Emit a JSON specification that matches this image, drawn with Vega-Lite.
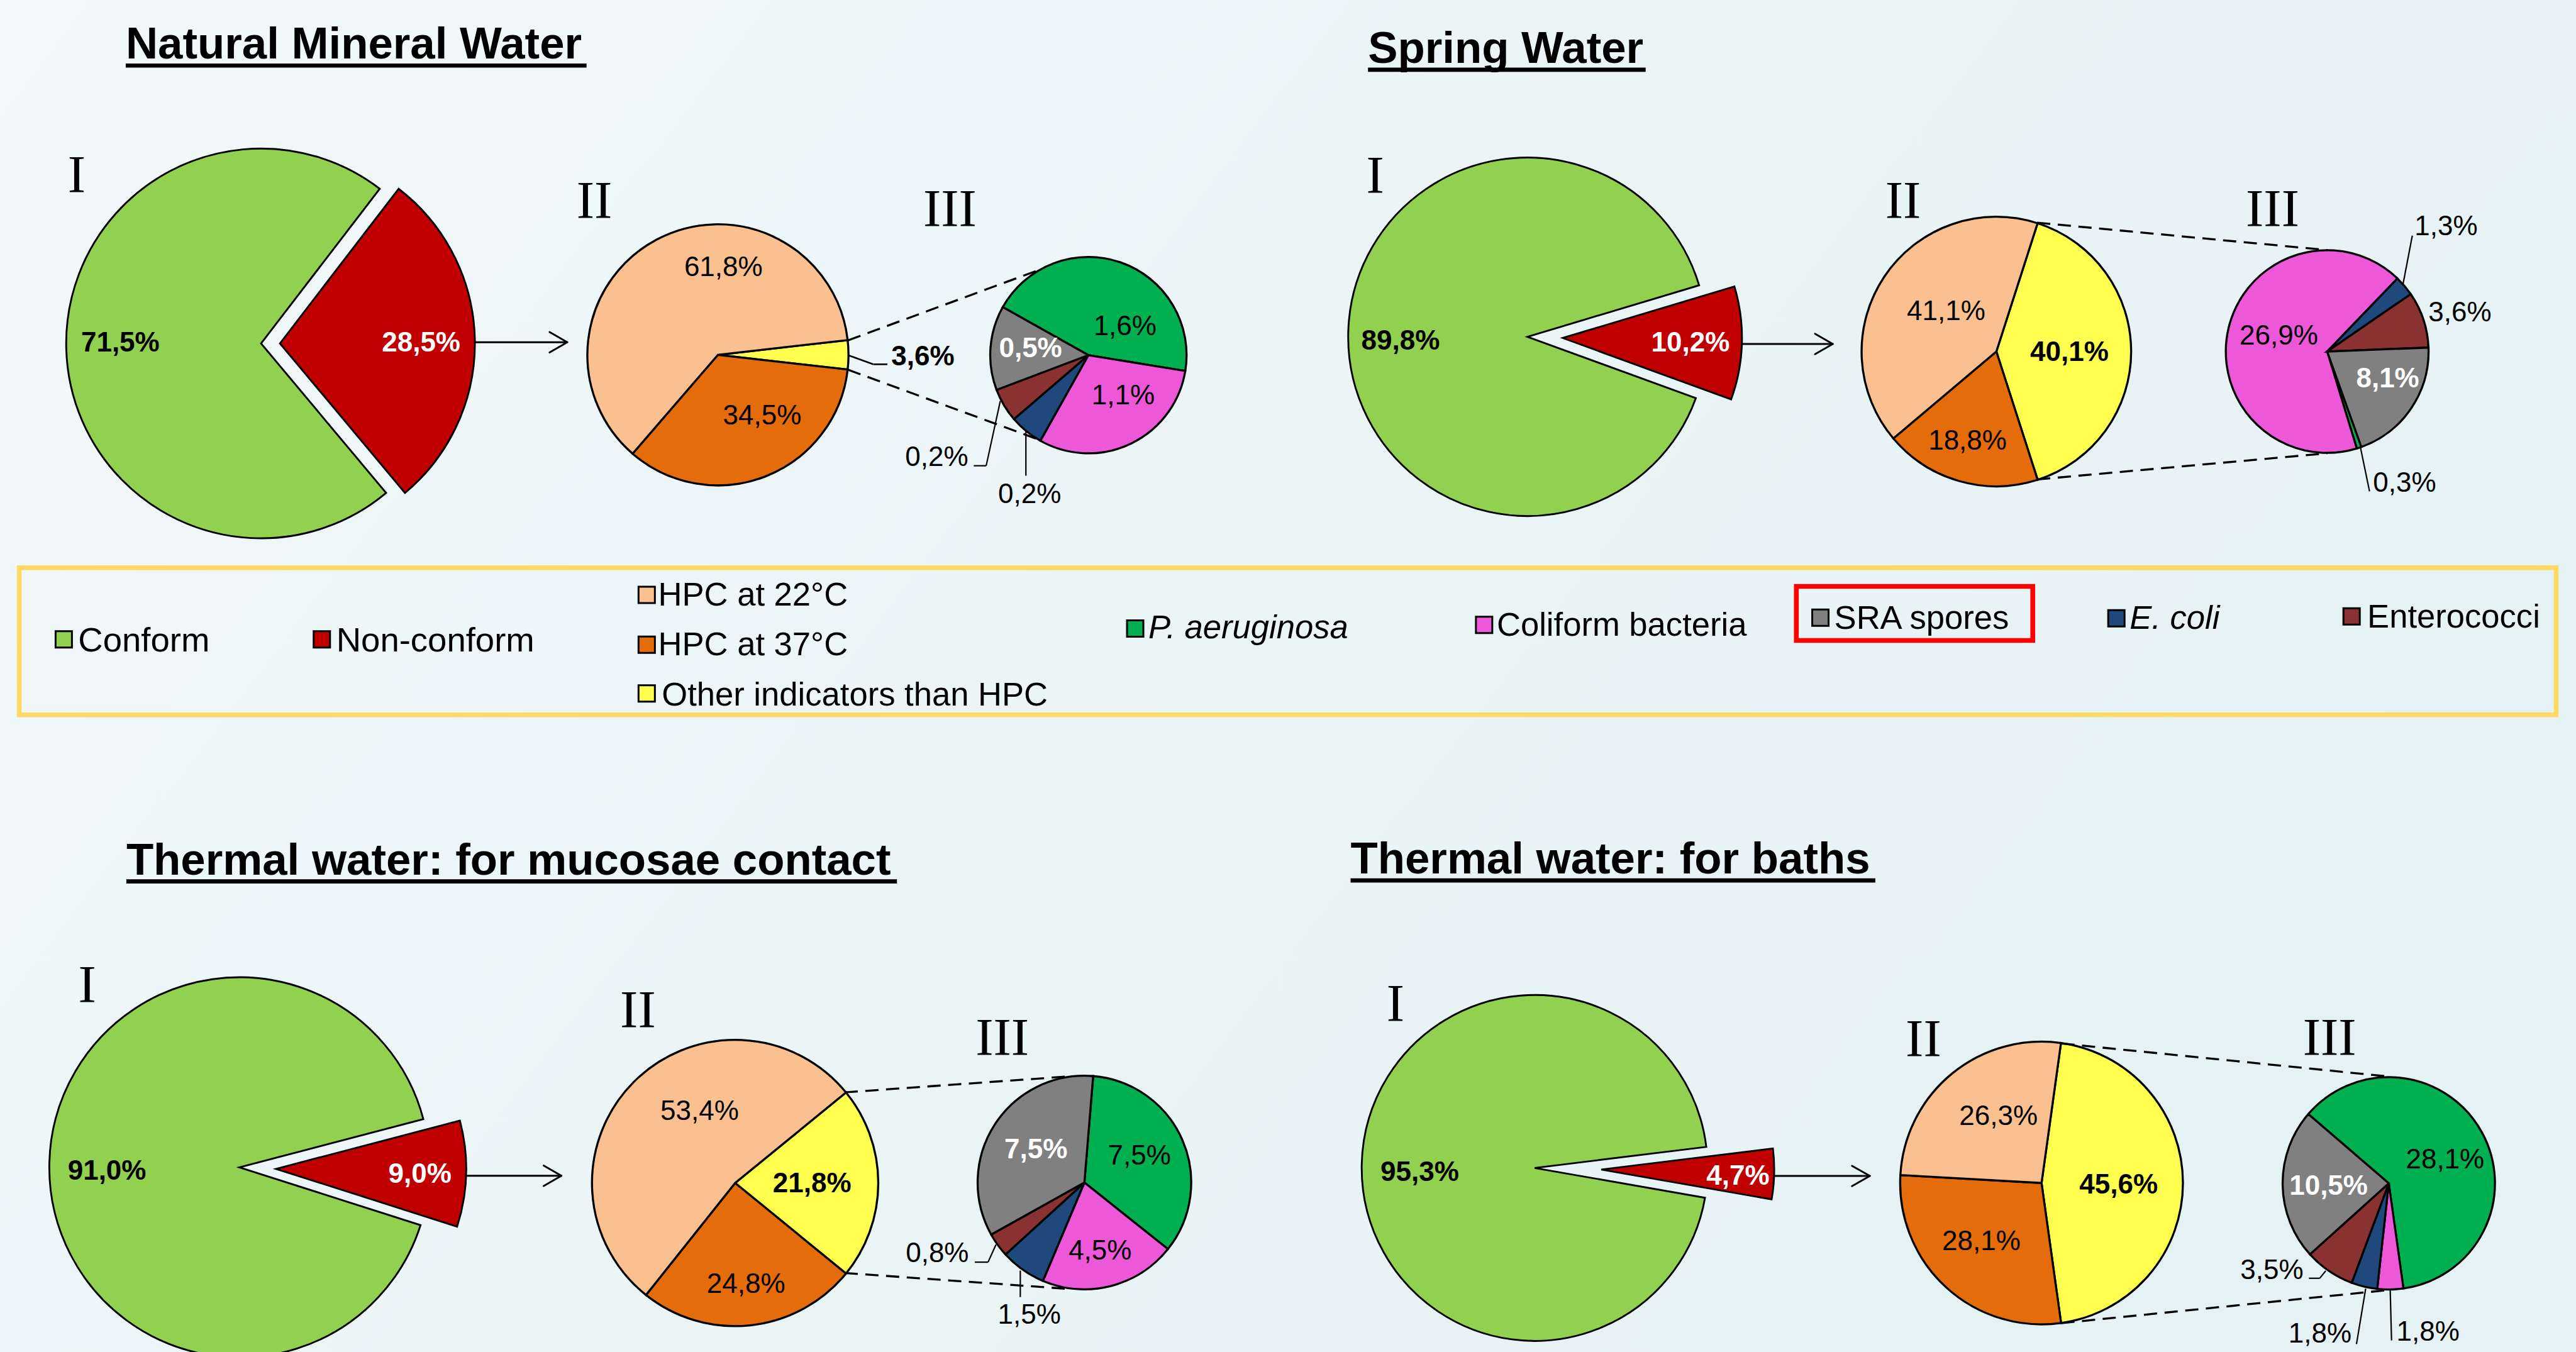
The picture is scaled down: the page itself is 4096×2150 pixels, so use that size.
{
"$schema": "https://vega.github.io/schema/vega-lite/v6.json",
"width": 4096, "height": 2150, "padding": 0, "autosize": {"type": "none"},
"background": "#ECF5F7",
"config": {"view": {"stroke": null}, "axis": {"disable": true, "domain": false, "ticks": false, "labels": false, "grid": false}, "legend": {"disable": true}, "text": {"font": "Liberation Sans"}},
"datasets": {"pies": [
{"pie":"NMW-I","cat":"Non-conform","k":1,"v":28.5,"label":"28,5%"},
{"pie":"NMW-I","cat":"Conform","k":2,"v":71.5,"label":"71,5%"},
{"pie":"NMW-II","cat":"Other indicators than HPC","k":1,"v":3.6,"label":"3,6%"},
{"pie":"NMW-II","cat":"HPC at 37°C","k":2,"v":34.5,"label":"34,5%"},
{"pie":"NMW-II","cat":"HPC at 22°C","k":3,"v":61.8,"label":"61,8%"},
{"pie":"NMW-III","cat":"P. aeruginosa","k":1,"v":1.6,"label":"1,6%"},
{"pie":"NMW-III","cat":"Coliform bacteria","k":2,"v":1.1,"label":"1,1%"},
{"pie":"NMW-III","cat":"E. coli","k":3,"v":0.2,"label":"0,2%"},
{"pie":"NMW-III","cat":"Enterococci","k":4,"v":0.2,"label":"0,2%"},
{"pie":"NMW-III","cat":"SRA spores","k":5,"v":0.5,"label":"0,5%"},
{"pie":"SW-I","cat":"Non-conform","k":1,"v":10.2,"label":"10,2%"},
{"pie":"SW-I","cat":"Conform","k":2,"v":89.8,"label":"89,8%"},
{"pie":"SW-II","cat":"Other indicators than HPC","k":1,"v":40.1,"label":"40,1%"},
{"pie":"SW-II","cat":"HPC at 37°C","k":2,"v":18.8,"label":"18,8%"},
{"pie":"SW-II","cat":"HPC at 22°C","k":3,"v":41.1,"label":"41,1%"},
{"pie":"SW-III","cat":"P. aeruginosa","k":1,"v":0.3,"label":"0,3%"},
{"pie":"SW-III","cat":"Coliform bacteria","k":2,"v":26.9,"label":"26,9%"},
{"pie":"SW-III","cat":"E. coli","k":3,"v":1.3,"label":"1,3%"},
{"pie":"SW-III","cat":"Enterococci","k":4,"v":3.6,"label":"3,6%"},
{"pie":"SW-III","cat":"SRA spores","k":5,"v":8.1,"label":"8,1%"},
{"pie":"BL-I","cat":"Non-conform","k":1,"v":9.0,"label":"9,0%"},
{"pie":"BL-I","cat":"Conform","k":2,"v":91.0,"label":"91,0%"},
{"pie":"BL-II","cat":"Other indicators than HPC","k":1,"v":21.8,"label":"21,8%"},
{"pie":"BL-II","cat":"HPC at 37°C","k":2,"v":24.8,"label":"24,8%"},
{"pie":"BL-II","cat":"HPC at 22°C","k":3,"v":53.4,"label":"53,4%"},
{"pie":"BL-III","cat":"P. aeruginosa","k":1,"v":7.5,"label":"7,5%"},
{"pie":"BL-III","cat":"Coliform bacteria","k":2,"v":4.5,"label":"4,5%"},
{"pie":"BL-III","cat":"E. coli","k":3,"v":1.5,"label":"1,5%"},
{"pie":"BL-III","cat":"Enterococci","k":4,"v":0.8,"label":"0,8%"},
{"pie":"BL-III","cat":"SRA spores","k":5,"v":7.5,"label":"7,5%"},
{"pie":"BR-I","cat":"Non-conform","k":1,"v":4.7,"label":"4,7%"},
{"pie":"BR-I","cat":"Conform","k":2,"v":95.3,"label":"95,3%"},
{"pie":"BR-II","cat":"Other indicators than HPC","k":1,"v":45.6,"label":"45,6%"},
{"pie":"BR-II","cat":"HPC at 37°C","k":2,"v":28.1,"label":"28,1%"},
{"pie":"BR-II","cat":"HPC at 22°C","k":3,"v":26.3,"label":"26,3%"},
{"pie":"BR-III","cat":"P. aeruginosa","k":1,"v":28.1,"label":"28,1%"},
{"pie":"BR-III","cat":"Coliform bacteria","k":2,"v":1.8,"label":"1,8%"},
{"pie":"BR-III","cat":"E. coli","k":3,"v":1.8,"label":"1,8%"},
{"pie":"BR-III","cat":"Enterococci","k":4,"v":3.5,"label":"3,5%"},
{"pie":"BR-III","cat":"SRA spores","k":5,"v":10.5,"label":"10,5%"}
]},
"data": {"values": [{"one": 1}]},
"resolve": {"scale": {"theta": "independent"}},
"layer": [
{"mark": {"type": "rect", "color": {"gradient": "linear", "x1": 0, "y1": 0, "x2": 1, "y2": 0.4, "stops": [{"offset": 0, "color": "#F1F8FA"}, {"offset": 1, "color": "#E5F2F3"}]}},
 "encoding": {"x": {"datum": 0, "scale": {"domain": [0, 4282], "nice": false, "zero": false}, "axis": null}, "x2": {"datum": 4282}, "y": {"datum": 0, "scale": {"domain": [0, 2248], "nice": false, "zero": false, "reverse": true}, "axis": null}, "y2": {"datum": 2248}}},

{"data":{"name":"pies"},"transform":[{"filter":"datum.pie==='NMW-I'"}],"mark":{"type":"arc","outerRadius":309.9,"stroke":"black","strokeWidth":2.9},"encoding":{"x":{"datum":434},"y":{"datum":571},"theta":{"field":"v","type":"quantitative","stack":true,"scale":{"range":[0.6545,6.9377],"nice":false}},"order":{"field":"k","type":"quantitative"},"color":{"field":"cat","type":"nominal","legend":null,"scale":{"domain":["Conform","Non-conform","HPC at 22°C","HPC at 37°C","Other indicators than HPC","P. aeruginosa","Coliform bacteria","SRA spores","E. coli","Enterococci"],"range":["#92D050","#C00000","#FAC090","#E46C0A","#FFFF50","#00B050","#EC58D8","#808080","#1F497D","#8A3232"]}},"opacity":{"condition":{"test":"datum.cat==='Non-conform'","value":0},"value":1}}},
{"data":{"name":"pies"},"transform":[{"filter":"datum.pie==='NMW-I'"}],"mark":{"type":"arc","outerRadius":309.9,"stroke":"black","strokeWidth":2.9},"encoding":{"x":{"datum":465.4},"y":{"datum":571},"theta":{"field":"v","type":"quantitative","stack":true,"scale":{"range":[0.6545,6.9377],"nice":false}},"order":{"field":"k","type":"quantitative"},"color":{"field":"cat","type":"nominal","legend":null},"opacity":{"condition":{"test":"datum.cat==='Conform'","value":0},"value":1}}},
{"data":{"name":"pies"},"transform":[{"filter":"datum.pie==='SW-I'"}],"mark":{"type":"arc","outerRadius":285.0,"stroke":"black","strokeWidth":2.9},"encoding":{"x":{"datum":2539},"y":{"datum":560},"theta":{"field":"v","type":"quantitative","stack":true,"scale":{"range":[1.2793,7.5625],"nice":false}},"order":{"field":"k","type":"quantitative"},"color":{"field":"cat","type":"nominal","legend":null},"opacity":{"condition":{"test":"datum.cat==='Non-conform'","value":0},"value":1}}},
{"data":{"name":"pies"},"transform":[{"filter":"datum.pie==='SW-I'"}],"mark":{"type":"arc","outerRadius":285.0,"stroke":"black","strokeWidth":2.9},"encoding":{"x":{"datum":2597.7},"y":{"datum":562},"theta":{"field":"v","type":"quantitative","stack":true,"scale":{"range":[1.2793,7.5625],"nice":false}},"order":{"field":"k","type":"quantitative"},"color":{"field":"cat","type":"nominal","legend":null},"opacity":{"condition":{"test":"datum.cat==='Conform'","value":0},"value":1}}},
{"data":{"name":"pies"},"transform":[{"filter":"datum.pie==='BL-I'"}],"mark":{"type":"arc","outerRadius":302.3,"stroke":"black","strokeWidth":2.9},"encoding":{"x":{"datum":398},"y":{"datum":1941},"theta":{"field":"v","type":"quantitative","stack":true,"scale":{"range":[1.3142,7.5974],"nice":false}},"order":{"field":"k","type":"quantitative"},"color":{"field":"cat","type":"nominal","legend":null},"opacity":{"condition":{"test":"datum.cat==='Non-conform'","value":0},"value":1}}},
{"data":{"name":"pies"},"transform":[{"filter":"datum.pie==='BL-I'"}],"mark":{"type":"arc","outerRadius":302.3,"stroke":"black","strokeWidth":2.9},"encoding":{"x":{"datum":458.8},"y":{"datum":1943.5},"theta":{"field":"v","type":"quantitative","stack":true,"scale":{"range":[1.3142,7.5974],"nice":false}},"order":{"field":"k","type":"quantitative"},"color":{"field":"cat","type":"nominal","legend":null},"opacity":{"condition":{"test":"datum.cat==='Conform'","value":0},"value":1}}},
{"data":{"name":"pies"},"transform":[{"filter":"datum.pie==='BR-I'"}],"mark":{"type":"arc","outerRadius":275.0,"stroke":"black","strokeWidth":2.9},"encoding":{"x":{"datum":2551},"y":{"datum":1942},"theta":{"field":"v","type":"quantitative","stack":true,"scale":{"range":[1.4486,7.7318],"nice":false}},"order":{"field":"k","type":"quantitative"},"color":{"field":"cat","type":"nominal","legend":null},"opacity":{"condition":{"test":"datum.cat==='Non-conform'","value":0},"value":1}}},
{"data":{"name":"pies"},"transform":[{"filter":"datum.pie==='BR-I'"}],"mark":{"type":"arc","outerRadius":275.0,"stroke":"black","strokeWidth":2.9},"encoding":{"x":{"datum":2661.7},"y":{"datum":1944.7},"theta":{"field":"v","type":"quantitative","stack":true,"scale":{"range":[1.4486,7.7318],"nice":false}},"order":{"field":"k","type":"quantitative"},"color":{"field":"cat","type":"nominal","legend":null},"opacity":{"condition":{"test":"datum.cat==='Conform'","value":0},"value":1}}},

{"data":{"name":"pies"},"transform":[{"filter":"datum.pie==='NMW-II'"}],"mark":{"type":"arc","outerRadius":207.6,"stroke":"black","strokeWidth":3.3},"encoding":{"x":{"datum":1193.4},"y":{"datum":590},"theta":{"field":"v","type":"quantitative","stack":true,"scale":{"range":[1.4574,7.7406],"nice":false}},"order":{"field":"k","type":"quantitative"},"color":{"field":"cat","type":"nominal","legend":null}}},
{"data":{"name":"pies"},"transform":[{"filter":"datum.pie==='SW-II'"}],"mark":{"type":"arc","outerRadius":214.3,"stroke":"black","strokeWidth":3.3},"encoding":{"x":{"datum":3318.5},"y":{"datum":584.5},"theta":{"field":"v","type":"quantitative","stack":true,"scale":{"range":[0.3107,6.5939],"nice":false}},"order":{"field":"k","type":"quantitative"},"color":{"field":"cat","type":"nominal","legend":null}}},
{"data":{"name":"pies"},"transform":[{"filter":"datum.pie==='BL-II'"}],"mark":{"type":"arc","outerRadius":227.6,"stroke":"black","strokeWidth":3.3},"encoding":{"x":{"datum":1222},"y":{"datum":1967},"theta":{"field":"v","type":"quantitative","stack":true,"scale":{"range":[0.8858,7.1690],"nice":false}},"order":{"field":"k","type":"quantitative"},"color":{"field":"cat","type":"nominal","legend":null}}},
{"data":{"name":"pies"},"transform":[{"filter":"datum.pie==='BR-II'"}],"mark":{"type":"arc","outerRadius":224.8,"stroke":"black","strokeWidth":3.3},"encoding":{"x":{"datum":3393.6},"y":{"datum":1967},"theta":{"field":"v","type":"quantitative","stack":true,"scale":{"range":[0.1379,6.4211],"nice":false}},"order":{"field":"k","type":"quantitative"},"color":{"field":"cat","type":"nominal","legend":null}}},
{"data":{"name":"pies"},"transform":[{"filter":"datum.pie==='NMW-III'"}],"mark":{"type":"arc","outerRadius":156.1,"stroke":"black","strokeWidth":3.3},"encoding":{"x":{"datum":1809.2},"y":{"datum":590.5},"theta":{"field":"v","type":"quantitative","stack":true,"scale":{"range":[-1.0594,5.2238],"nice":false}},"order":{"field":"k","type":"quantitative"},"color":{"field":"cat","type":"nominal","legend":null}}},
{"data":{"name":"pies"},"transform":[{"filter":"datum.pie==='SW-III'"}],"mark":{"type":"arc","outerRadius":161.2,"stroke":"black","strokeWidth":3.3},"encoding":{"x":{"datum":3868.4},"y":{"datum":584.5},"theta":{"field":"v","type":"quantitative","stack":true,"scale":{"range":[2.7978,9.0810],"nice":false}},"order":{"field":"k","type":"quantitative"},"color":{"field":"cat","type":"nominal","legend":null}}},
{"data":{"name":"pies"},"transform":[{"filter":"datum.pie==='BL-III'"}],"mark":{"type":"arc","outerRadius":169.8,"stroke":"black","strokeWidth":3.3},"encoding":{"x":{"datum":1802.6},"y":{"datum":1966.2},"theta":{"field":"v","type":"quantitative","stack":true,"scale":{"range":[0.0820,6.3652],"nice":false}},"order":{"field":"k","type":"quantitative"},"color":{"field":"cat","type":"nominal","legend":null}}},
{"data":{"name":"pies"},"transform":[{"filter":"datum.pie==='BR-III'"}],"mark":{"type":"arc","outerRadius":168.8,"stroke":"black","strokeWidth":3.3},"encoding":{"x":{"datum":3970.8},"y":{"datum":1967.5},"theta":{"field":"v","type":"quantitative","stack":true,"scale":{"range":[-0.8604,5.4228],"nice":false}},"order":{"field":"k","type":"quantitative"},"color":{"field":"cat","type":"nominal","legend":null}}},

{"data":{"name":"pies"},"transform":[{"filter":"datum.pie==='NMW-I'&&datum.cat==='Conform'"}],"mark":{"type":"text","fontSize":44,"fontWeight":"bold","align":"center","baseline":"alphabetic"},"encoding":{"x":{"datum":200},"y":{"datum":585},"text":{"field":"label"}}},
{"data":{"name":"pies"},"transform":[{"filter":"datum.pie==='NMW-I'&&datum.cat==='Non-conform'"}],"mark":{"type":"text","fontSize":44,"fontWeight":"bold","color":"white","align":"center","baseline":"alphabetic"},"encoding":{"x":{"datum":700},"y":{"datum":585},"text":{"field":"label"}}},
{"data":{"name":"pies"},"transform":[{"filter":"datum.pie==='NMW-II'&&datum.cat==='HPC at 22°C'"}],"mark":{"type":"text","fontSize":44,"align":"center","baseline":"alphabetic"},"encoding":{"x":{"datum":1202.5},"y":{"datum":459.3},"text":{"field":"label"}}},
{"data":{"name":"pies"},"transform":[{"filter":"datum.pie==='NMW-II'&&datum.cat==='HPC at 37°C'"}],"mark":{"type":"text","fontSize":44,"align":"center","baseline":"alphabetic"},"encoding":{"x":{"datum":1267},"y":{"datum":706},"text":{"field":"label"}}},
{"data":{"name":"pies"},"transform":[{"filter":"datum.pie==='NMW-II'&&datum.cat==='Other indicators than HPC'"}],"mark":{"type":"text","fontSize":44,"fontWeight":"bold","align":"center","baseline":"alphabetic"},"encoding":{"x":{"datum":1534},"y":{"datum":607.3},"text":{"field":"label"}}},
{"data":{"name":"pies"},"transform":[{"filter":"datum.pie==='NMW-III'&&datum.cat==='P. aeruginosa'"}],"mark":{"type":"text","fontSize":44,"align":"center","baseline":"alphabetic"},"encoding":{"x":{"datum":1870},"y":{"datum":556.8},"text":{"field":"label"}}},
{"data":{"name":"pies"},"transform":[{"filter":"datum.pie==='NMW-III'&&datum.cat==='Coliform bacteria'"}],"mark":{"type":"text","fontSize":44,"align":"center","baseline":"alphabetic"},"encoding":{"x":{"datum":1867},"y":{"datum":672},"text":{"field":"label"}}},
{"data":{"name":"pies"},"transform":[{"filter":"datum.pie==='NMW-III'&&datum.cat==='SRA spores'"}],"mark":{"type":"text","fontSize":44,"fontWeight":"bold","color":"white","align":"center","baseline":"alphabetic"},"encoding":{"x":{"datum":1713},"y":{"datum":594},"text":{"field":"label"}}},
{"data":{"name":"pies"},"transform":[{"filter":"datum.pie==='NMW-III'&&datum.cat==='Enterococci'"}],"mark":{"type":"text","fontSize":44,"align":"center","baseline":"alphabetic"},"encoding":{"x":{"datum":1557},"y":{"datum":774.4},"text":{"field":"label"}}},
{"data":{"name":"pies"},"transform":[{"filter":"datum.pie==='NMW-III'&&datum.cat==='E. coli'"}],"mark":{"type":"text","fontSize":44,"align":"center","baseline":"alphabetic"},"encoding":{"x":{"datum":1711.5},"y":{"datum":836.6},"text":{"field":"label"}}},

{"data":{"name":"pies"},"transform":[{"filter":"datum.pie==='SW-I'&&datum.cat==='Conform'"}],"mark":{"type":"text","fontSize":44,"fontWeight":"bold","align":"center","baseline":"alphabetic"},"encoding":{"x":{"datum":2328},"y":{"datum":580.9},"text":{"field":"label"}}},
{"data":{"name":"pies"},"transform":[{"filter":"datum.pie==='SW-I'&&datum.cat==='Non-conform'"}],"mark":{"type":"text","fontSize":44,"fontWeight":"bold","color":"white","align":"center","baseline":"alphabetic"},"encoding":{"x":{"datum":2810},"y":{"datum":585},"text":{"field":"label"}}},
{"data":{"name":"pies"},"transform":[{"filter":"datum.pie==='SW-II'&&datum.cat==='HPC at 22°C'"}],"mark":{"type":"text","fontSize":44,"align":"center","baseline":"alphabetic"},"encoding":{"x":{"datum":3235},"y":{"datum":531.9},"text":{"field":"label"}}},
{"data":{"name":"pies"},"transform":[{"filter":"datum.pie==='SW-II'&&datum.cat==='Other indicators than HPC'"}],"mark":{"type":"text","fontSize":44,"fontWeight":"bold","align":"center","baseline":"alphabetic"},"encoding":{"x":{"datum":3439.8},"y":{"datum":600.3},"text":{"field":"label"}}},
{"data":{"name":"pies"},"transform":[{"filter":"datum.pie==='SW-II'&&datum.cat==='HPC at 37°C'"}],"mark":{"type":"text","fontSize":44,"align":"center","baseline":"alphabetic"},"encoding":{"x":{"datum":3270.6},"y":{"datum":747.4},"text":{"field":"label"}}},
{"data":{"name":"pies"},"transform":[{"filter":"datum.pie==='SW-III'&&datum.cat==='Coliform bacteria'"}],"mark":{"type":"text","fontSize":44,"align":"center","baseline":"alphabetic"},"encoding":{"x":{"datum":3788},"y":{"datum":572.5},"text":{"field":"label"}}},
{"data":{"name":"pies"},"transform":[{"filter":"datum.pie==='SW-III'&&datum.cat==='SRA spores'"}],"mark":{"type":"text","fontSize":44,"fontWeight":"bold","color":"white","align":"center","baseline":"alphabetic"},"encoding":{"x":{"datum":3969},"y":{"datum":644.6},"text":{"field":"label"}}},
{"data":{"name":"pies"},"transform":[{"filter":"datum.pie==='SW-III'&&datum.cat==='Enterococci'"}],"mark":{"type":"text","fontSize":44,"align":"center","baseline":"alphabetic"},"encoding":{"x":{"datum":4089},"y":{"datum":534},"text":{"field":"label"}}},
{"data":{"name":"pies"},"transform":[{"filter":"datum.pie==='SW-III'&&datum.cat==='E. coli'"}],"mark":{"type":"text","fontSize":44,"align":"center","baseline":"alphabetic"},"encoding":{"x":{"datum":4066},"y":{"datum":391},"text":{"field":"label"}}},
{"data":{"name":"pies"},"transform":[{"filter":"datum.pie==='SW-III'&&datum.cat==='P. aeruginosa'"}],"mark":{"type":"text","fontSize":44,"align":"center","baseline":"alphabetic"},"encoding":{"x":{"datum":3997},"y":{"datum":818},"text":{"field":"label"}}},

{"data":{"name":"pies"},"transform":[{"filter":"datum.pie==='BL-I'&&datum.cat==='Conform'"}],"mark":{"type":"text","fontSize":44,"fontWeight":"bold","align":"center","baseline":"alphabetic"},"encoding":{"x":{"datum":177.8},"y":{"datum":1961.1},"text":{"field":"label"}}},
{"data":{"name":"pies"},"transform":[{"filter":"datum.pie==='BL-I'&&datum.cat==='Non-conform'"}],"mark":{"type":"text","fontSize":44,"fontWeight":"bold","color":"white","align":"center","baseline":"alphabetic"},"encoding":{"x":{"datum":698},"y":{"datum":1967},"text":{"field":"label"}}},
{"data":{"name":"pies"},"transform":[{"filter":"datum.pie==='BL-II'&&datum.cat==='HPC at 22°C'"}],"mark":{"type":"text","fontSize":44,"align":"center","baseline":"alphabetic"},"encoding":{"x":{"datum":1163},"y":{"datum":1862.3},"text":{"field":"label"}}},
{"data":{"name":"pies"},"transform":[{"filter":"datum.pie==='BL-II'&&datum.cat==='Other indicators than HPC'"}],"mark":{"type":"text","fontSize":44,"fontWeight":"bold","align":"center","baseline":"alphabetic"},"encoding":{"x":{"datum":1349.8},"y":{"datum":1982.5},"text":{"field":"label"}}},
{"data":{"name":"pies"},"transform":[{"filter":"datum.pie==='BL-II'&&datum.cat==='HPC at 37°C'"}],"mark":{"type":"text","fontSize":44,"align":"center","baseline":"alphabetic"},"encoding":{"x":{"datum":1240},"y":{"datum":2149.5},"text":{"field":"label"}}},
{"data":{"name":"pies"},"transform":[{"filter":"datum.pie==='BL-III'&&datum.cat==='SRA spores'"}],"mark":{"type":"text","fontSize":44,"fontWeight":"bold","color":"white","align":"center","baseline":"alphabetic"},"encoding":{"x":{"datum":1722},"y":{"datum":1926.4},"text":{"field":"label"}}},
{"data":{"name":"pies"},"transform":[{"filter":"datum.pie==='BL-III'&&datum.cat==='P. aeruginosa'"}],"mark":{"type":"text","fontSize":44,"align":"center","baseline":"alphabetic"},"encoding":{"x":{"datum":1894},"y":{"datum":1936.4},"text":{"field":"label"}}},
{"data":{"name":"pies"},"transform":[{"filter":"datum.pie==='BL-III'&&datum.cat==='Coliform bacteria'"}],"mark":{"type":"text","fontSize":44,"align":"center","baseline":"alphabetic"},"encoding":{"x":{"datum":1828.7},"y":{"datum":2093.8},"text":{"field":"label"}}},
{"data":{"name":"pies"},"transform":[{"filter":"datum.pie==='BL-III'&&datum.cat==='Enterococci'"}],"mark":{"type":"text","fontSize":44,"align":"center","baseline":"alphabetic"},"encoding":{"x":{"datum":1558},"y":{"datum":2098.6},"text":{"field":"label"}}},
{"data":{"name":"pies"},"transform":[{"filter":"datum.pie==='BL-III'&&datum.cat==='E. coli'"}],"mark":{"type":"text","fontSize":44,"align":"center","baseline":"alphabetic"},"encoding":{"x":{"datum":1711},"y":{"datum":2200.7},"text":{"field":"label"}}},

{"data":{"name":"pies"},"transform":[{"filter":"datum.pie==='BR-I'&&datum.cat==='Conform'"}],"mark":{"type":"text","fontSize":44,"fontWeight":"bold","align":"center","baseline":"alphabetic"},"encoding":{"x":{"datum":2360},"y":{"datum":1964},"text":{"field":"label"}}},
{"data":{"name":"pies"},"transform":[{"filter":"datum.pie==='BR-I'&&datum.cat==='Non-conform'"}],"mark":{"type":"text","fontSize":44,"fontWeight":"bold","color":"white","align":"center","baseline":"alphabetic"},"encoding":{"x":{"datum":2889},"y":{"datum":1969.9},"text":{"field":"label"}}},
{"data":{"name":"pies"},"transform":[{"filter":"datum.pie==='BR-II'&&datum.cat==='HPC at 22°C'"}],"mark":{"type":"text","fontSize":44,"align":"center","baseline":"alphabetic"},"encoding":{"x":{"datum":3322},"y":{"datum":1870.3},"text":{"field":"label"}}},
{"data":{"name":"pies"},"transform":[{"filter":"datum.pie==='BR-II'&&datum.cat==='Other indicators than HPC'"}],"mark":{"type":"text","fontSize":44,"fontWeight":"bold","align":"center","baseline":"alphabetic"},"encoding":{"x":{"datum":3521.6},"y":{"datum":1984.5},"text":{"field":"label"}}},
{"data":{"name":"pies"},"transform":[{"filter":"datum.pie==='BR-II'&&datum.cat==='HPC at 37°C'"}],"mark":{"type":"text","fontSize":44,"align":"center","baseline":"alphabetic"},"encoding":{"x":{"datum":3293.5},"y":{"datum":2078.6},"text":{"field":"label"}}},
{"data":{"name":"pies"},"transform":[{"filter":"datum.pie==='BR-III'&&datum.cat==='P. aeruginosa'"}],"mark":{"type":"text","fontSize":44,"align":"center","baseline":"alphabetic"},"encoding":{"x":{"datum":4064.4},"y":{"datum":1942.4},"text":{"field":"label"}}},
{"data":{"name":"pies"},"transform":[{"filter":"datum.pie==='BR-III'&&datum.cat==='SRA spores'"}],"mark":{"type":"text","fontSize":44,"fontWeight":"bold","color":"white","align":"center","baseline":"alphabetic"},"encoding":{"x":{"datum":3870.7},"y":{"datum":1986.5},"text":{"field":"label"}}},
{"data":{"name":"pies"},"transform":[{"filter":"datum.pie==='BR-III'&&datum.cat==='Enterococci'"}],"mark":{"type":"text","fontSize":44,"align":"center","baseline":"alphabetic"},"encoding":{"x":{"datum":3776.5},"y":{"datum":2126.6},"text":{"field":"label"}}},
{"data":{"name":"pies"},"transform":[{"filter":"datum.pie==='BR-III'&&datum.cat==='E. coli'"}],"mark":{"type":"text","fontSize":44,"align":"center","baseline":"alphabetic"},"encoding":{"x":{"datum":3856.5},"y":{"datum":2232.8},"text":{"field":"label"}}},
{"data":{"name":"pies"},"transform":[{"filter":"datum.pie==='BR-III'&&datum.cat==='Coliform bacteria'"}],"mark":{"type":"text","fontSize":44,"align":"center","baseline":"alphabetic"},"encoding":{"x":{"datum":4036},"y":{"datum":2228.8},"text":{"field":"label"}}},

{"mark":{"type":"rule","color":"black","strokeWidth":3.3,"strokeDash":[21,12]},"encoding":{"x":{"datum":1409.7},"y":{"datum":565.9},"x2":{"datum":1732.4},"y2":{"datum":446.9}}},
{"mark":{"type":"rule","color":"black","strokeWidth":3.3,"strokeDash":[21,12]},"encoding":{"x":{"datum":1409.7},"y":{"datum":614.8},"x2":{"datum":1732.4},"y2":{"datum":733}}},
{"mark":{"type":"rule","color":"black","strokeWidth":3.3,"strokeDash":[21,12]},"encoding":{"x":{"datum":3386.2},"y":{"datum":370.2},"x2":{"datum":3868.4},"y2":{"datum":415.8}}},
{"mark":{"type":"rule","color":"black","strokeWidth":3.3,"strokeDash":[21,12]},"encoding":{"x":{"datum":3386.2},"y":{"datum":797.2},"x2":{"datum":3868.4},"y2":{"datum":753.7}}},
{"mark":{"type":"rule","color":"black","strokeWidth":3.3,"strokeDash":[21,12]},"encoding":{"x":{"datum":1404},"y":{"datum":1816.3},"x2":{"datum":1770.8},"y2":{"datum":1790.2}}},
{"mark":{"type":"rule","color":"black","strokeWidth":3.3,"strokeDash":[21,12]},"encoding":{"x":{"datum":1404},"y":{"datum":2116.6},"x2":{"datum":1770.8},"y2":{"datum":2142.7}}},
{"mark":{"type":"rule","color":"black","strokeWidth":3.3,"strokeDash":[21,12]},"encoding":{"x":{"datum":3426.5},"y":{"datum":1735},"x2":{"datum":3973},"y2":{"datum":1790.2}}},
{"mark":{"type":"rule","color":"black","strokeWidth":3.3,"strokeDash":[21,12]},"encoding":{"x":{"datum":3426.5},"y":{"datum":2200},"x2":{"datum":3973},"y2":{"datum":2144.7}}},

{"mark":{"type":"rule","color":"black","strokeWidth":2.9},"encoding":{"x":{"datum":788},"y":{"datum":569},"x2":{"datum":943},"y2":{"datum":569}}},
{"mark":{"type":"rule","color":"black","strokeWidth":2.9,"strokeCap":"round"},"encoding":{"x":{"datum":913.5},"y":{"datum":552},"x2":{"datum":943},"y2":{"datum":569}}},
{"mark":{"type":"rule","color":"black","strokeWidth":2.9,"strokeCap":"round"},"encoding":{"x":{"datum":913.5},"y":{"datum":586},"x2":{"datum":943},"y2":{"datum":569}}},
{"mark":{"type":"rule","color":"black","strokeWidth":2.9},"encoding":{"x":{"datum":2895},"y":{"datum":572},"x2":{"datum":3046.6},"y2":{"datum":572}}},
{"mark":{"type":"rule","color":"black","strokeWidth":2.9,"strokeCap":"round"},"encoding":{"x":{"datum":3017},"y":{"datum":555},"x2":{"datum":3046.6},"y2":{"datum":572}}},
{"mark":{"type":"rule","color":"black","strokeWidth":2.9,"strokeCap":"round"},"encoding":{"x":{"datum":3017},"y":{"datum":589},"x2":{"datum":3046.6},"y2":{"datum":572}}},
{"mark":{"type":"rule","color":"black","strokeWidth":2.9},"encoding":{"x":{"datum":773.3},"y":{"datum":1955},"x2":{"datum":933.2},"y2":{"datum":1955}}},
{"mark":{"type":"rule","color":"black","strokeWidth":2.9,"strokeCap":"round"},"encoding":{"x":{"datum":903.7},"y":{"datum":1938},"x2":{"datum":933.2},"y2":{"datum":1955}}},
{"mark":{"type":"rule","color":"black","strokeWidth":2.9,"strokeCap":"round"},"encoding":{"x":{"datum":903.7},"y":{"datum":1972},"x2":{"datum":933.2},"y2":{"datum":1955}}},
{"mark":{"type":"rule","color":"black","strokeWidth":2.9},"encoding":{"x":{"datum":2949.5},"y":{"datum":1955.3},"x2":{"datum":3108.2},"y2":{"datum":1955.3}}},
{"mark":{"type":"rule","color":"black","strokeWidth":2.9,"strokeCap":"round"},"encoding":{"x":{"datum":3078.5},"y":{"datum":1938.5},"x2":{"datum":3108.2},"y2":{"datum":1955.3}}},
{"mark":{"type":"rule","color":"black","strokeWidth":2.9,"strokeCap":"round"},"encoding":{"x":{"datum":3078.5},"y":{"datum":1972.3},"x2":{"datum":3108.2},"y2":{"datum":1955.3}}},

{"mark":{"type":"rule","color":"black","strokeWidth":2.6},"encoding":{"x":{"datum":1411},"y":{"datum":591},"x2":{"datum":1451.5},"y2":{"datum":605.7}}},
{"mark":{"type":"rule","color":"black","strokeWidth":2.6},"encoding":{"x":{"datum":1451.5},"y":{"datum":605.7},"x2":{"datum":1475},"y2":{"datum":605.7}}},
{"mark":{"type":"rule","color":"black","strokeWidth":2.2},"encoding":{"x":{"datum":1662.8},"y":{"datum":666.6},"x2":{"datum":1639.3},"y2":{"datum":774.4}}},
{"mark":{"type":"rule","color":"black","strokeWidth":2.2},"encoding":{"x":{"datum":1639.3},"y":{"datum":774.4},"x2":{"datum":1618.7},"y2":{"datum":774.4}}},
{"mark":{"type":"rule","color":"black","strokeWidth":2.2},"encoding":{"x":{"datum":1705.3},"y":{"datum":716.4},"x2":{"datum":1705.3},"y2":{"datum":791}}},
{"mark":{"type":"rule","color":"black","strokeWidth":2.2},"encoding":{"x":{"datum":3994.6},"y":{"datum":471.8},"x2":{"datum":4009.9},"y2":{"datum":391.8}}},
{"mark":{"type":"rule","color":"black","strokeWidth":2.2},"encoding":{"x":{"datum":3923.4},"y":{"datum":742.5},"x2":{"datum":3938.8},"y2":{"datum":817}}},
{"mark":{"type":"rule","color":"black","strokeWidth":2.2},"encoding":{"x":{"datum":1655.6},"y":{"datum":2069.4},"x2":{"datum":1642.4},"y2":{"datum":2098.6}}},
{"mark":{"type":"rule","color":"black","strokeWidth":2.2},"encoding":{"x":{"datum":1642.4},"y":{"datum":2098.6},"x2":{"datum":1620.4},"y2":{"datum":2098.6}}},
{"mark":{"type":"rule","color":"black","strokeWidth":2.2},"encoding":{"x":{"datum":1696},"y":{"datum":2112.6},"x2":{"datum":1696},"y2":{"datum":2156.7}}},
{"mark":{"type":"rule","color":"black","strokeWidth":2.2},"encoding":{"x":{"datum":3866},"y":{"datum":2113},"x2":{"datum":3856},"y2":{"datum":2125.4}}},
{"mark":{"type":"rule","color":"black","strokeWidth":2.2},"encoding":{"x":{"datum":3856},"y":{"datum":2125.4},"x2":{"datum":3838},"y2":{"datum":2125.4}}},
{"mark":{"type":"rule","color":"black","strokeWidth":2.2},"encoding":{"x":{"datum":3932.4},"y":{"datum":2142.7},"x2":{"datum":3917.1},"y2":{"datum":2234.8}}},
{"mark":{"type":"rule","color":"black","strokeWidth":2.2},"encoding":{"x":{"datum":3973.1},"y":{"datum":2142.7},"x2":{"datum":3975.4},"y2":{"datum":2228.8}}},

{"mark":{"type":"text","text":"Natural Mineral Water","fontSize":70.8,"fontWeight":"bold","align":"left","baseline":"alphabetic"},"encoding":{"x":{"datum":209},"y":{"datum":96.8}}},
{"mark":{"type":"rule","color":"black","strokeWidth":6.7},"encoding":{"x":{"datum":209},"y":{"datum":109},"x2":{"datum":975},"y2":{"datum":109}}},
{"mark":{"type":"text","text":"Spring Water","fontSize":70.8,"fontWeight":"bold","align":"left","baseline":"alphabetic"},"encoding":{"x":{"datum":2274},"y":{"datum":104.4}}},
{"mark":{"type":"rule","color":"black","strokeWidth":6.7},"encoding":{"x":{"datum":2274},"y":{"datum":116},"x2":{"datum":2735.5},"y2":{"datum":116}}},
{"mark":{"type":"text","text":"Thermal water: for mucosae contact","fontSize":70.8,"fontWeight":"bold","align":"left","baseline":"alphabetic"},"encoding":{"x":{"datum":210},"y":{"datum":1454}}},
{"mark":{"type":"rule","color":"black","strokeWidth":6.7},"encoding":{"x":{"datum":210},"y":{"datum":1465.5},"x2":{"datum":1491},"y2":{"datum":1465.5}}},
{"mark":{"type":"text","text":"Thermal water: for baths","fontSize":70.8,"fontWeight":"bold","align":"left","baseline":"alphabetic"},"encoding":{"x":{"datum":2245},"y":{"datum":1451.8}}},
{"mark":{"type":"rule","color":"black","strokeWidth":6.7},"encoding":{"x":{"datum":2245},"y":{"datum":1464},"x2":{"datum":3117.3},"y2":{"datum":1464}}},

{"mark":{"type":"text","text":"I","font":"Liberation Serif","fontSize":85,"align":"center","baseline":"alphabetic"},"encoding":{"x":{"datum":127.5},"y":{"datum":320}}},
{"mark":{"type":"text","text":"II","font":"Liberation Serif","fontSize":85,"align":"center","baseline":"alphabetic"},"encoding":{"x":{"datum":988},"y":{"datum":362.8}}},
{"mark":{"type":"text","text":"III","font":"Liberation Serif","fontSize":85,"align":"center","baseline":"alphabetic"},"encoding":{"x":{"datum":1579},"y":{"datum":376.4}}},
{"mark":{"type":"text","text":"I","font":"Liberation Serif","fontSize":85,"align":"center","baseline":"alphabetic"},"encoding":{"x":{"datum":2286},"y":{"datum":321.5}}},
{"mark":{"type":"text","text":"II","font":"Liberation Serif","fontSize":85,"align":"center","baseline":"alphabetic"},"encoding":{"x":{"datum":3163.5},"y":{"datum":362.8}}},
{"mark":{"type":"text","text":"III","font":"Liberation Serif","fontSize":85,"align":"center","baseline":"alphabetic"},"encoding":{"x":{"datum":3777.6},"y":{"datum":376.4}}},
{"mark":{"type":"text","text":"I","font":"Liberation Serif","fontSize":85,"align":"center","baseline":"alphabetic"},"encoding":{"x":{"datum":145},"y":{"datum":1666.6}}},
{"mark":{"type":"text","text":"II","font":"Liberation Serif","fontSize":85,"align":"center","baseline":"alphabetic"},"encoding":{"x":{"datum":1060.5},"y":{"datum":1708.9}}},
{"mark":{"type":"text","text":"III","font":"Liberation Serif","fontSize":85,"align":"center","baseline":"alphabetic"},"encoding":{"x":{"datum":1666},"y":{"datum":1754.2}}},
{"mark":{"type":"text","text":"I","font":"Liberation Serif","fontSize":85,"align":"center","baseline":"alphabetic"},"encoding":{"x":{"datum":2319.7},"y":{"datum":1697.7}}},
{"mark":{"type":"text","text":"II","font":"Liberation Serif","fontSize":85,"align":"center","baseline":"alphabetic"},"encoding":{"x":{"datum":3197.3},"y":{"datum":1756.2}}},
{"mark":{"type":"text","text":"III","font":"Liberation Serif","fontSize":85,"align":"center","baseline":"alphabetic"},"encoding":{"x":{"datum":3872.3},"y":{"datum":1755}}},

{"mark":{"type":"rect","fill":"transparent","stroke":"#FFD966","strokeWidth":7.6},"encoding":{"x":{"datum":32},"x2":{"datum":4249},"y":{"datum":944},"y2":{"datum":1188.5}}},
{"mark":{"type":"rect","fill":"transparent","stroke":"#FF0000","strokeWidth":7.6},"encoding":{"x":{"datum":2986},"x2":{"datum":3379},"y":{"datum":975},"y2":{"datum":1065}}},

{"mark":{"type":"point","shape":"square","filled":true,"size":676,"stroke":"black","strokeWidth":3,"opacity":1},"encoding":{"x":{"datum":106},"y":{"datum":1063},"color":{"datum":"Conform","type":"nominal","legend":null}}},
{"mark":{"type":"point","shape":"square","filled":true,"size":676,"stroke":"black","strokeWidth":3,"opacity":1},"encoding":{"x":{"datum":535},"y":{"datum":1063},"color":{"datum":"Non-conform","type":"nominal","legend":null}}},
{"mark":{"type":"point","shape":"square","filled":true,"size":676,"stroke":"black","strokeWidth":3,"opacity":1},"encoding":{"x":{"datum":1075},"y":{"datum":989},"color":{"datum":"HPC at 22°C","type":"nominal","legend":null}}},
{"mark":{"type":"point","shape":"square","filled":true,"size":676,"stroke":"black","strokeWidth":3,"opacity":1},"encoding":{"x":{"datum":1075},"y":{"datum":1072},"color":{"datum":"HPC at 37°C","type":"nominal","legend":null}}},
{"mark":{"type":"point","shape":"square","filled":true,"size":676,"stroke":"black","strokeWidth":3,"opacity":1},"encoding":{"x":{"datum":1075},"y":{"datum":1153},"color":{"datum":"Other indicators than HPC","type":"nominal","legend":null}}},
{"mark":{"type":"point","shape":"square","filled":true,"size":676,"stroke":"black","strokeWidth":3,"opacity":1},"encoding":{"x":{"datum":1887},"y":{"datum":1045},"color":{"datum":"P. aeruginosa","type":"nominal","legend":null}}},
{"mark":{"type":"point","shape":"square","filled":true,"size":676,"stroke":"black","strokeWidth":3,"opacity":1},"encoding":{"x":{"datum":2467},"y":{"datum":1039},"color":{"datum":"Coliform bacteria","type":"nominal","legend":null}}},
{"mark":{"type":"point","shape":"square","filled":true,"size":676,"stroke":"black","strokeWidth":3,"opacity":1},"encoding":{"x":{"datum":3026},"y":{"datum":1027},"color":{"datum":"SRA spores","type":"nominal","legend":null}}},
{"mark":{"type":"point","shape":"square","filled":true,"size":676,"stroke":"black","strokeWidth":3,"opacity":1},"encoding":{"x":{"datum":3518},"y":{"datum":1028},"color":{"datum":"E. coli","type":"nominal","legend":null}}},
{"mark":{"type":"point","shape":"square","filled":true,"size":676,"stroke":"black","strokeWidth":3,"opacity":1},"encoding":{"x":{"datum":3909},"y":{"datum":1025},"color":{"datum":"Enterococci","type":"nominal","legend":null}}},

{"mark":{"type":"text","text":"Conform","fontSize":54.5,"align":"left","baseline":"alphabetic"},"encoding":{"x":{"datum":130},"y":{"datum":1082.7}}},
{"mark":{"type":"text","text":"Non-conform","fontSize":54.5,"align":"left","baseline":"alphabetic"},"encoding":{"x":{"datum":559},"y":{"datum":1082.7}}},
{"mark":{"type":"text","text":"HPC at 22°C","fontSize":52.6,"align":"left","baseline":"alphabetic"},"encoding":{"x":{"datum":1094},"y":{"datum":1006.7}}},
{"mark":{"type":"text","text":"HPC at 37°C","fontSize":52.6,"align":"left","baseline":"alphabetic"},"encoding":{"x":{"datum":1094},"y":{"datum":1090}}},
{"mark":{"type":"text","text":"Other indicators than HPC","fontSize":52.6,"align":"left","baseline":"alphabetic"},"encoding":{"x":{"datum":1100},"y":{"datum":1173}}},
{"mark":{"type":"text","text":"P. aeruginosa","fontSize":52.6,"fontStyle":"italic","align":"left","baseline":"alphabetic"},"encoding":{"x":{"datum":1909},"y":{"datum":1061.7}}},
{"mark":{"type":"text","text":"Coliform bacteria","fontSize":52.6,"align":"left","baseline":"alphabetic"},"encoding":{"x":{"datum":2488},"y":{"datum":1056.7}}},
{"mark":{"type":"text","text":"SRA spores","fontSize":52.6,"align":"left","baseline":"alphabetic"},"encoding":{"x":{"datum":3049},"y":{"datum":1045.5}}},
{"mark":{"type":"text","text":"E. coli","fontSize":52.6,"fontStyle":"italic","align":"left","baseline":"alphabetic"},"encoding":{"x":{"datum":3540},"y":{"datum":1046}}},
{"mark":{"type":"text","text":"Enterococci","fontSize":52.6,"align":"left","baseline":"alphabetic"},"encoding":{"x":{"datum":3935},"y":{"datum":1043.3}}}
]
}
